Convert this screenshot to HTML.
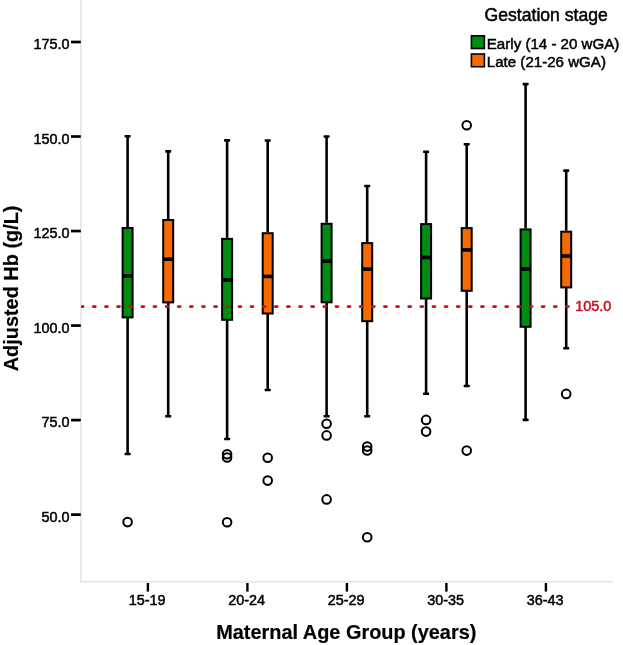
<!DOCTYPE html>
<html><head><meta charset="utf-8"><style>
html,body{margin:0;padding:0;background:#fff;}
body{width:623px;height:645px;overflow:hidden;}
svg{display:block;will-change:transform;filter:blur(0.35px);}
text{font-family:"Liberation Sans",sans-serif;}
.tick{font-size:14.4px;stroke:currentColor;stroke-width:0.5px;}
.lt{font-size:17.6px;stroke:#000;stroke-width:0.5px;}
.li{font-size:15.1px;stroke:#000;stroke-width:0.5px;}
.ti{font-size:19.9px;font-weight:bold;stroke:#000;stroke-width:0.2px;}
</style></head><body>
<svg width="623" height="645" viewBox="0 0 623 645">
<rect x="80" y="0" width="1.6" height="582.5" fill="#e6e6e6"/>
<rect x="80" y="580.9" width="533" height="1.6" fill="#e6e6e6"/>
<rect x="71" y="40.65" width="9.8" height="2.7" fill="#000"/>
<text x="69.6" y="49.30" text-anchor="end" class="tick">175.0</text>
<rect x="71" y="135.18" width="9.8" height="2.7" fill="#000"/>
<text x="69.6" y="143.83" text-anchor="end" class="tick">150.0</text>
<rect x="71" y="229.70" width="9.8" height="2.7" fill="#000"/>
<text x="69.6" y="238.35" text-anchor="end" class="tick">125.0</text>
<rect x="71" y="324.22" width="9.8" height="2.7" fill="#000"/>
<text x="69.6" y="332.88" text-anchor="end" class="tick">100.0</text>
<rect x="71" y="418.75" width="9.8" height="2.7" fill="#000"/>
<text x="69.6" y="427.40" text-anchor="end" class="tick">75.0</text>
<rect x="71" y="513.27" width="9.8" height="2.7" fill="#000"/>
<text x="69.6" y="521.92" text-anchor="end" class="tick">50.0</text>
<rect x="146.70" y="583" width="2.4" height="8.6" fill="#000"/>
<text x="147.10" y="605.2" text-anchor="middle" class="tick">15-19</text>
<rect x="246.20" y="583" width="2.4" height="8.6" fill="#000"/>
<text x="246.60" y="605.2" text-anchor="middle" class="tick">20-24</text>
<rect x="345.70" y="583" width="2.4" height="8.6" fill="#000"/>
<text x="346.10" y="605.2" text-anchor="middle" class="tick">25-29</text>
<rect x="445.20" y="583" width="2.4" height="8.6" fill="#000"/>
<text x="445.60" y="605.2" text-anchor="middle" class="tick">30-35</text>
<rect x="544.70" y="583" width="2.4" height="8.6" fill="#000"/>
<text x="545.10" y="605.2" text-anchor="middle" class="tick">36-43</text>
<rect x="126.30" y="136.30" width="2.6" height="90.70" fill="#000"/>
<rect x="126.30" y="317.40" width="2.6" height="136.60" fill="#000"/>
<rect x="124.60" y="135.00" width="6.0" height="2.6" rx="0.6" fill="#000"/>
<rect x="124.60" y="452.70" width="6.0" height="2.6" rx="0.6" fill="#000"/>
<rect x="122.60" y="228.00" width="10.00" height="89.40" fill="#008c12" stroke="#000" stroke-width="2.0"/>
<rect x="122.10" y="274.20" width="11.00" height="3.6" fill="#000"/>
<circle cx="127.60" cy="522.10" r="4.3" fill="none" stroke="#000" stroke-width="2"/>
<rect x="166.90" y="151.40" width="2.6" height="67.60" fill="#000"/>
<rect x="166.90" y="302.40" width="2.6" height="113.90" fill="#000"/>
<rect x="165.20" y="150.10" width="6.0" height="2.6" rx="0.6" fill="#000"/>
<rect x="165.20" y="415.00" width="6.0" height="2.6" rx="0.6" fill="#000"/>
<rect x="163.20" y="220.00" width="10.00" height="82.40" fill="#f86a00" stroke="#000" stroke-width="2.0"/>
<rect x="162.70" y="257.40" width="11.00" height="3.6" fill="#000"/>
<rect x="225.80" y="140.40" width="2.6" height="97.50" fill="#000"/>
<rect x="225.80" y="319.80" width="2.6" height="119.20" fill="#000"/>
<rect x="224.10" y="139.10" width="6.0" height="2.6" rx="0.6" fill="#000"/>
<rect x="224.10" y="437.70" width="6.0" height="2.6" rx="0.6" fill="#000"/>
<rect x="222.10" y="238.90" width="10.00" height="80.90" fill="#008c12" stroke="#000" stroke-width="2.0"/>
<rect x="221.60" y="278.20" width="11.00" height="3.6" fill="#000"/>
<circle cx="227.10" cy="454.20" r="4.3" fill="none" stroke="#000" stroke-width="2"/>
<circle cx="227.10" cy="457.50" r="4.3" fill="none" stroke="#000" stroke-width="2"/>
<circle cx="227.10" cy="522.20" r="4.3" fill="none" stroke="#000" stroke-width="2"/>
<rect x="266.40" y="140.50" width="2.6" height="91.70" fill="#000"/>
<rect x="266.40" y="313.50" width="2.6" height="76.50" fill="#000"/>
<rect x="264.70" y="139.20" width="6.0" height="2.6" rx="0.6" fill="#000"/>
<rect x="264.70" y="388.70" width="6.0" height="2.6" rx="0.6" fill="#000"/>
<rect x="262.70" y="233.20" width="10.00" height="80.30" fill="#f86a00" stroke="#000" stroke-width="2.0"/>
<rect x="262.20" y="274.60" width="11.00" height="3.6" fill="#000"/>
<circle cx="267.70" cy="457.70" r="4.3" fill="none" stroke="#000" stroke-width="2"/>
<circle cx="267.70" cy="480.60" r="4.3" fill="none" stroke="#000" stroke-width="2"/>
<rect x="325.30" y="136.50" width="2.6" height="86.30" fill="#000"/>
<rect x="325.30" y="302.30" width="2.6" height="114.00" fill="#000"/>
<rect x="323.60" y="135.20" width="6.0" height="2.6" rx="0.6" fill="#000"/>
<rect x="323.60" y="415.00" width="6.0" height="2.6" rx="0.6" fill="#000"/>
<rect x="321.60" y="223.80" width="10.00" height="78.50" fill="#008c12" stroke="#000" stroke-width="2.0"/>
<rect x="321.10" y="259.40" width="11.00" height="3.6" fill="#000"/>
<circle cx="326.60" cy="423.80" r="4.3" fill="none" stroke="#000" stroke-width="2"/>
<circle cx="326.60" cy="435.40" r="4.3" fill="none" stroke="#000" stroke-width="2"/>
<circle cx="326.60" cy="499.40" r="4.3" fill="none" stroke="#000" stroke-width="2"/>
<rect x="365.90" y="186.00" width="2.6" height="56.10" fill="#000"/>
<rect x="365.90" y="321.20" width="2.6" height="95.00" fill="#000"/>
<rect x="364.20" y="184.70" width="6.0" height="2.6" rx="0.6" fill="#000"/>
<rect x="364.20" y="414.90" width="6.0" height="2.6" rx="0.6" fill="#000"/>
<rect x="362.20" y="243.10" width="10.00" height="78.10" fill="#f86a00" stroke="#000" stroke-width="2.0"/>
<rect x="361.70" y="267.30" width="11.00" height="3.6" fill="#000"/>
<circle cx="367.20" cy="446.60" r="4.3" fill="none" stroke="#000" stroke-width="2"/>
<circle cx="367.20" cy="450.50" r="4.3" fill="none" stroke="#000" stroke-width="2"/>
<circle cx="367.20" cy="537.20" r="4.3" fill="none" stroke="#000" stroke-width="2"/>
<rect x="424.80" y="151.80" width="2.6" height="71.30" fill="#000"/>
<rect x="424.80" y="298.50" width="2.6" height="95.30" fill="#000"/>
<rect x="423.10" y="150.50" width="6.0" height="2.6" rx="0.6" fill="#000"/>
<rect x="423.10" y="392.50" width="6.0" height="2.6" rx="0.6" fill="#000"/>
<rect x="421.10" y="224.10" width="10.00" height="74.40" fill="#008c12" stroke="#000" stroke-width="2.0"/>
<rect x="420.60" y="255.70" width="11.00" height="3.6" fill="#000"/>
<circle cx="426.10" cy="419.90" r="4.3" fill="none" stroke="#000" stroke-width="2"/>
<circle cx="426.10" cy="431.60" r="4.3" fill="none" stroke="#000" stroke-width="2"/>
<rect x="465.40" y="144.30" width="2.6" height="82.80" fill="#000"/>
<rect x="465.40" y="290.80" width="2.6" height="95.20" fill="#000"/>
<rect x="463.70" y="143.00" width="6.0" height="2.6" rx="0.6" fill="#000"/>
<rect x="463.70" y="384.70" width="6.0" height="2.6" rx="0.6" fill="#000"/>
<rect x="461.70" y="228.10" width="10.00" height="62.70" fill="#f86a00" stroke="#000" stroke-width="2.0"/>
<rect x="461.20" y="248.10" width="11.00" height="3.6" fill="#000"/>
<circle cx="466.70" cy="125.20" r="4.3" fill="none" stroke="#000" stroke-width="2"/>
<circle cx="466.70" cy="450.60" r="4.3" fill="none" stroke="#000" stroke-width="2"/>
<rect x="524.30" y="84.10" width="2.6" height="144.30" fill="#000"/>
<rect x="524.30" y="326.80" width="2.6" height="93.10" fill="#000"/>
<rect x="522.60" y="82.80" width="6.0" height="2.6" rx="0.6" fill="#000"/>
<rect x="522.60" y="418.60" width="6.0" height="2.6" rx="0.6" fill="#000"/>
<rect x="520.60" y="229.40" width="10.00" height="97.40" fill="#008c12" stroke="#000" stroke-width="2.0"/>
<rect x="520.10" y="267.20" width="11.00" height="3.6" fill="#000"/>
<rect x="564.90" y="170.60" width="2.6" height="60.10" fill="#000"/>
<rect x="564.90" y="287.40" width="2.6" height="60.80" fill="#000"/>
<rect x="563.20" y="169.30" width="6.0" height="2.6" rx="0.6" fill="#000"/>
<rect x="563.20" y="346.90" width="6.0" height="2.6" rx="0.6" fill="#000"/>
<rect x="561.20" y="231.70" width="10.00" height="55.70" fill="#f86a00" stroke="#000" stroke-width="2.0"/>
<rect x="560.70" y="254.20" width="11.00" height="3.6" fill="#000"/>
<circle cx="566.20" cy="393.90" r="4.3" fill="none" stroke="#000" stroke-width="2"/>
<clipPath id="rc"><rect x="81" y="290" width="500" height="30"/></clipPath>
<line x1="81" y1="306.6" x2="572" y2="306.6" clip-path="url(#rc)" stroke="#c8101c" stroke-width="2.8" stroke-linecap="round" stroke-dasharray="2.0 10.13" stroke-dashoffset="-0.17"/>
<text x="575.2" y="311.3" class="tick" fill="#c8101c" style="color:#c8101c">105.0</text>
<text x="484.6" y="21.3" class="lt">Gestation stage</text>
<rect x="471.4" y="35.8" width="13" height="12.7" fill="#008c12" stroke="#000" stroke-width="1.6"/>
<rect x="471.4" y="54.0" width="13" height="12.7" fill="#f86a00" stroke="#000" stroke-width="1.6"/>
<text x="486.8" y="49.1" class="li">Early (14 - 20 wGA)</text>
<text x="486.8" y="66.6" class="li">Late (21-26 wGA)</text>
<text x="346.3" y="638.8" text-anchor="middle" class="ti">Maternal Age Group (years)</text>
<text transform="translate(18.1 288.4) rotate(-90)" text-anchor="middle" class="ti">Adjusted Hb (g/L)</text>
</svg>
</body></html>
